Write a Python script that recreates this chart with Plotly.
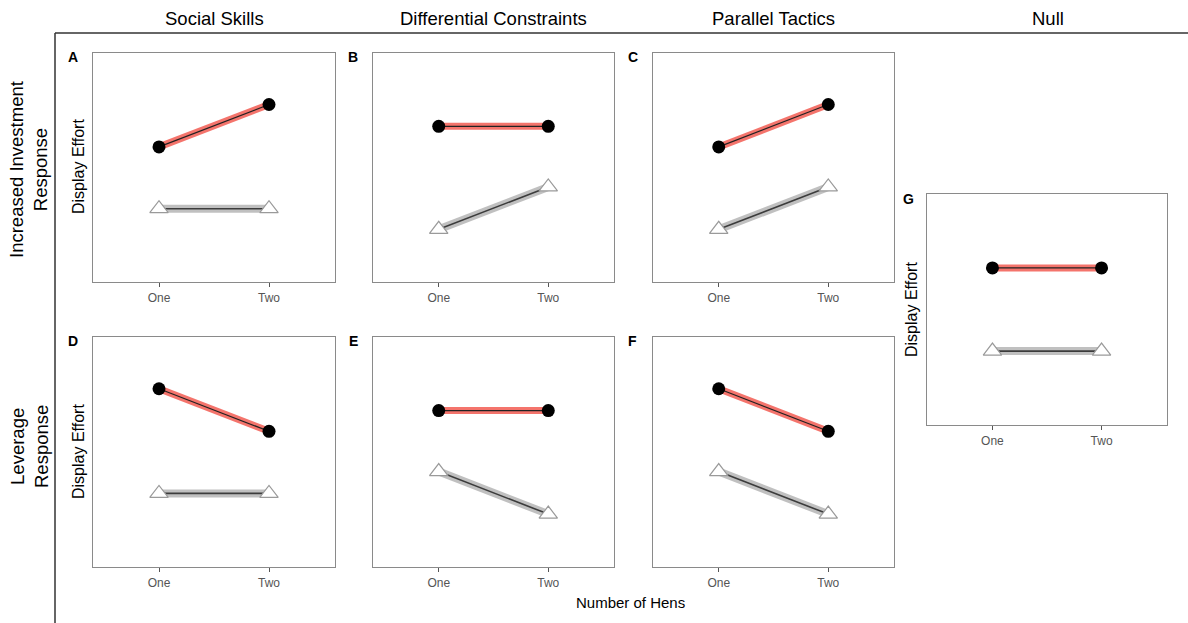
import plotly.graph_objects as go

# Number of hens on the x axis of every panel
hens = ["One", "Two"]

# Panel letters, in order A..G
panel_letters = ["A", "B", "C", "D", "E", "F", "G"]

# Predicted display effort (arbitrary units) for the filled-circle series
filled_effort = [
    [5.9, 7.75],   # A
    [6.8, 6.8],    # B
    [5.9, 7.75],   # C
    [7.75, 5.9],   # D
    [6.8, 6.8],    # E
    [7.75, 5.9],   # F
    [6.8, 6.8],    # G
]

# Predicted display effort for the open-triangle series
open_effort = [
    [3.2, 3.2],    # A
    [2.3, 4.15],   # B
    [2.3, 4.15],   # C
    [3.2, 3.2],    # D
    [4.15, 2.3],   # E
    [4.15, 2.3],   # F
    [3.2, 3.2],    # G
]

column_titles = ["Social Skills", "Differential Constraints", "Parallel Tactics", "Null"]
row_titles = ["Increased Investment<br>Response", "Leverage<br>Response"]
y_title = "Display Effort"
x_title = "Number of Hens"

W, H = 1188, 623

# Panel boxes in pixels: (left, right, top, bottom)
boxes = [
    (93, 335, 53, 282),
    (373, 614, 53, 282),
    (653, 894, 53, 282),
    (93, 335, 337, 567),
    (373, 614, 337, 567),
    (653, 894, 337, 567),
    (927, 1167, 194, 425),
]


def px(x):
    return x / W


def py(y):
    return 1 - y / H


fig = go.Figure()
layout_axes = {}

for i, (letter, f_vals, o_vals, box) in enumerate(zip(panel_letters, filled_effort, open_effort, boxes)):
    n = "" if i == 0 else str(i + 1)
    xa, ya = "x" + n, "y" + n
    left, right, top, bottom = box

    # wide translucent bands behind each line
    fig.add_trace(go.Scatter(x=hens, y=o_vals, mode="lines", xaxis=xa, yaxis=ya,
                             line=dict(color="rgba(165,165,165,0.7)", width=8),
                             hoverinfo="skip", showlegend=False))
    fig.add_trace(go.Scatter(x=hens, y=f_vals, mode="lines", xaxis=xa, yaxis=ya,
                             line=dict(color="rgba(242,92,82,0.85)", width=7),
                             hoverinfo="skip", showlegend=False))
    # thin centre lines
    fig.add_trace(go.Scatter(x=hens, y=o_vals, mode="lines", xaxis=xa, yaxis=ya,
                             line=dict(color="#3c3c3c", width=1.6),
                             hoverinfo="skip", showlegend=False))
    fig.add_trace(go.Scatter(x=hens, y=f_vals, mode="lines", xaxis=xa, yaxis=ya,
                             line=dict(color="#222222", width=1.2),
                             hoverinfo="skip", showlegend=False))
    # markers
    fig.add_trace(go.Scatter(x=hens, y=o_vals, mode="markers", xaxis=xa, yaxis=ya,
                             marker=dict(symbol="triangle-up", size=16, color="white",
                                         line=dict(color="#9a9a9a", width=1.2)),
                             showlegend=False))
    fig.add_trace(go.Scatter(x=hens, y=f_vals, mode="markers", xaxis=xa, yaxis=ya,
                             marker=dict(symbol="circle", size=13, color="black",
                                         line=dict(color="black", width=0)),
                             showlegend=False))

    layout_axes["xaxis" + n] = dict(
        domain=[px(left), px(right)], anchor=ya, type="category",
        categoryorder="array", categoryarray=hens, range=[-0.6, 1.6],
        showline=True, mirror=True, linecolor="#8a8a8a", linewidth=1.3,
        ticks="outside", ticklen=4, tickwidth=1.3, tickcolor="#555555",
        tickfont=dict(family="Liberation Sans, Arial, sans-serif", size=12, color="#555555"),
        showgrid=False, zeroline=False, fixedrange=True,
    )
    layout_axes["yaxis" + n] = dict(
        domain=[py(bottom), py(top)], anchor=xa, range=[0, 10],
        showline=True, mirror=True, linecolor="#8a8a8a", linewidth=1.3,
        showticklabels=False, ticks="", showgrid=False, zeroline=False, fixedrange=True,
    )

annotations = []
font_main = "Liberation Sans, Arial, sans-serif"

# panel letters
letter_pos = [(73, 57), (353, 57), (633, 57), (73, 341), (353, 341), (632, 341), (908, 199)]
for letter, (lx, ly) in zip(panel_letters, letter_pos):
    annotations.append(dict(text="<b>%s</b>" % letter, x=px(lx), y=py(ly), xref="paper", yref="paper",
                            showarrow=False, xanchor="center", yanchor="middle",
                            font=dict(family=font_main, size=14, color="black")))

# column titles
col_x = [214, 493, 773, 1048]
for t, cx in zip(column_titles, col_x):
    annotations.append(dict(text=t, x=px(cx), y=py(18), xref="paper", yref="paper",
                            showarrow=False, xanchor="center", yanchor="middle",
                            font=dict(family=font_main, size=18.5, color="black")))

# row titles
row_y = [170, 447]
for t, ry in zip(row_titles, row_y):
    annotations.append(dict(text=t, x=px(29), y=py(ry), xref="paper", yref="paper",
                            showarrow=False, xanchor="center", yanchor="middle", textangle=-90,
                            font=dict(family=font_main, size=18.5, color="black")))

# y-axis titles beside the left-hand panels
for (tx, ty) in [(78, 167), (78, 452), (911, 310)]:
    annotations.append(dict(text=y_title, x=px(tx), y=py(ty), xref="paper", yref="paper",
                            showarrow=False, xanchor="center", yanchor="middle", textangle=-90,
                            font=dict(family=font_main, size=16, color="black")))

# shared x-axis title
annotations.append(dict(text=x_title, x=px(630), y=py(602), xref="paper", yref="paper",
                        showarrow=False, xanchor="center", yanchor="middle",
                        font=dict(family=font_main, size=15, color="black")))

# outer frame: top rule and left rule
shapes = [
    dict(type="line", xref="paper", yref="paper", x0=px(55), x1=1, y0=py(33), y1=py(33),
         line=dict(color="#333333", width=1.5)),
    dict(type="line", xref="paper", yref="paper", x0=px(55), x1=px(55), y0=py(33), y1=0,
         line=dict(color="#333333", width=1.5)),
]

fig.update_layout(
    width=W, height=H,
    margin=dict(l=0, r=0, t=0, b=0),
    paper_bgcolor="white", plot_bgcolor="white",
    annotations=annotations, shapes=shapes,
    showlegend=False,
    **layout_axes,
)

fig.write_html("out.html", config={"displayModeBar": False})
